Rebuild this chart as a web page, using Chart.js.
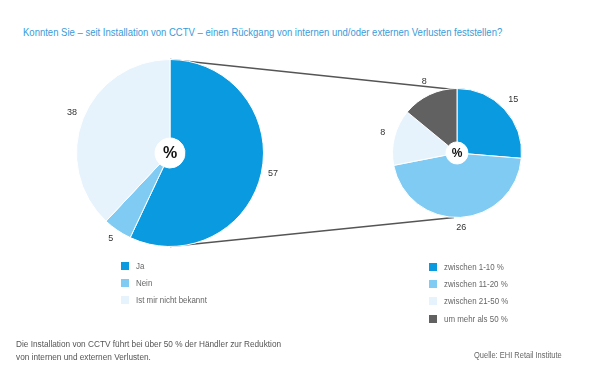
<!DOCTYPE html>
<html>
<head>
<meta charset="utf-8">
<script src="https://cdn.jsdelivr.net/npm/chart.js@4/dist/chart.umd.min.js"></script>
<style>
  body { margin: 0; width: 600px; height: 384px; background: #fff; position: relative; overflow: hidden;
         font-family: "Liberation Sans", "Arial", sans-serif; }
  canvas { position: absolute; }
  .sq { transform-origin: 0 50%; display: inline-block; white-space: nowrap; }
  #title { position: absolute; left: 23px; top: 26px; font-size: 11px; color: #3a9bd8; transform: scaleX(0.865); }
  .legend { position: absolute; font-size: 9px; color: #666; }
  .legend div { height: 17.2px; line-height: 10px; white-space: nowrap; }
  .legend b { display: inline-block; width: 8px; height: 8px; margin-right: 7px; vertical-align: -1px; }
  .legend i { font-style: normal; display: inline-block; transform: scaleX(0.88); transform-origin: 0 50%; }
  #note { position: absolute; left: 16px; top: 337px; font-size: 9.6px; line-height: 13px; color: #555; transform: scaleX(0.86); }
  #src { position: absolute; left: 474px; top: 350px; font-size: 8.5px; color: #666; transform: scaleX(0.88); }
</style>
</head>
<body>
<div id="title" class="sq">Konnten Sie – seit Installation von CCTV – einen Rückgang von internen und/oder externen Verlusten feststellen?</div>
<canvas id="lines" width="600" height="384" style="left:0;top:0"></canvas>
<canvas id="chart_1" width="240" height="240" style="left:50px;top:33px"></canvas>
<canvas id="chart_2" width="180" height="180" style="left:367px;top:63px"></canvas>
<div class="legend" id="legend_1" style="left:121px;top:261px"></div>
<div class="legend" id="legend_2" style="left:429px;top:262px"></div>
<div id="note" class="sq">Die Installation von CCTV führt bei über 50 % der Händler zur Reduktion<br>von internen und externen Verlusten.</div>
<div id="src" class="sq">Quelle: EHI Retail Institute</div>
<script>
var mainLabels = ["Ja", "Nein", "Ist mir nicht bekannt"];
var mainValues = [57, 5, 38];
var mainColors = ["#0a9ae0", "#80cbf3", "#e7f3fc"];

var detailLabels = ["zwischen 1-10 %", "zwischen 11-20 %", "zwischen 21-50 %", "um mehr als 50 %"];
var detailValues = [15, 26, 8, 8];
var detailColors = ["#0a9ae0", "#80cbf3", "#e7f3fc", "#616161"];

// numbers outside the slices + the "%" in the middle
var pieText = {
	id : 'pieText',
	afterDraw : function(chart, args, opts) {
		var ctx = chart.ctx;
		var arcs = chart.getDatasetMeta(0).data;
		ctx.save();
		ctx.textAlign = 'center';
		ctx.textBaseline = 'middle';
		ctx.fillStyle = '#333';
		ctx.font = '9px "Liberation Sans", sans-serif';
		arcs.forEach(function(a, i) {
			var mid = (a.startAngle + a.endAngle) / 2;
			var r = a.outerRadius + opts.offset;
			ctx.fillText(chart.data.datasets[0].data[i], a.x + Math.cos(mid) * r, a.y + Math.sin(mid) * r - 2);
		});
		ctx.fillStyle = '#111';
		ctx.font = 'bold ' + opts.pct + 'px "Liberation Sans", sans-serif';
		ctx.fillText('%', arcs[0].x, arcs[0].y + 1);
		ctx.restore();
	}
};

function makePie(id, values, colors, labels, pad, hole, offset, pct) {
	return new Chart(id, {
		type : 'doughnut',
		data : {
			labels : labels,
			datasets : [ {
				data : values,
				backgroundColor : colors,
				borderColor : '#fff',
				borderWidth : 1
			} ]
		},
		options : {
			responsive : false,
			animation : false,
			cutout : hole,
			layout : { padding : pad },
			plugins : {
				legend : { display : false },
				tooltip : { enabled : false },
				pieText : { offset : offset, pct : pct }
			}
		},
		plugins : [ pieText ]
	});
}

var mainChart = makePie('chart_1', mainValues, mainColors, mainLabels, 26, 15, 12, 16);
var detailChart = makePie('chart_2', detailValues, detailColors, detailLabels, 25, 11, 12, 12);

// connector lines from big pie to the detail pie (drawn underneath)
function drawLines() {
	var c1 = document.getElementById('chart_1'), c2 = document.getElementById('chart_2');
	var a = mainChart.getDatasetMeta(0).data[0];
	var b = detailChart.getDatasetMeta(0).data[0];
	var x1 = c1.offsetLeft + a.x, y1 = c1.offsetTop + a.y, r1 = a.outerRadius;
	var x2 = c2.offsetLeft + b.x, y2 = c2.offsetTop + b.y, r2 = b.outerRadius;
	var ctx = document.getElementById('lines').getContext('2d');
	ctx.strokeStyle = '#555';
	ctx.lineWidth = 1.3;
	ctx.beginPath();
	ctx.moveTo(x1, y1 - r1);
	ctx.lineTo(x2 - 3, y2 - r2 + 1);
	ctx.moveTo(x1, y1 + r1);
	ctx.lineTo(x2 - 3, y2 + r2);
	ctx.stroke();
}
drawLines();

function buildLegend(el, labels, colors) {
	var html = '';
	labels.forEach(function(l, i) {
		html += '<div><b style="background:' + colors[i] + '"></b><i>' + l + '</i></div>';
	});
	document.getElementById(el).innerHTML = html;
}
buildLegend('legend_1', mainLabels, mainColors);
buildLegend('legend_2', detailLabels, detailColors);
</script>
</body>
</html>
